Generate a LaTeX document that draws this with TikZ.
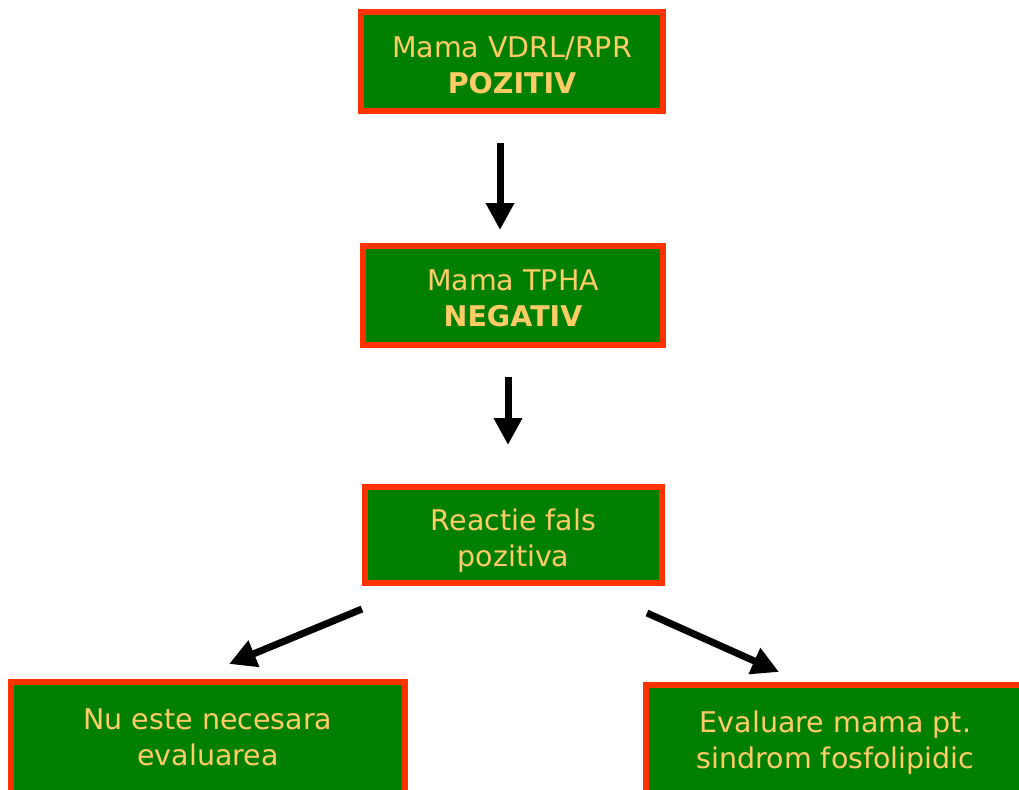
\documentclass[tikz,border=0pt]{standalone}
\usepackage{fontspec}
\setmainfont{DejaVu Sans}
\usetikzlibrary{arrows.meta}
\definecolor{boxred}{HTML}{FF3300}
\definecolor{boxgreen}{HTML}{007F00}
\definecolor{txtyellow}{HTML}{FFCC66}
\newcommand{\lowtext}[1]{\rule{0pt}{#1pt}}
\tikzset{
  box/.style={draw=boxred, fill=boxgreen, line width=6pt, text=txtyellow,
    align=center, inner sep=0pt, font=\fontsize{28.5}{36}\selectfont},
  arr/.style={line width=7pt, -{Triangle[length=27pt,width=27pt]}}
}
\begin{document}
\begin{tikzpicture}[x=1pt,y=-1pt]
\useasboundingbox (0,0) rectangle (1019,789);
\clip (0,0) rectangle (1019,789);
\fill[white] (0,0) rectangle (1019,789);
\node[box, minimum width=302pt, minimum height=99pt] (b1) at (512,61.5)
  {\lowtext{28}Mama VDRL/RPR\\\textbf{POZITIV}};
\node[box, minimum width=300pt, minimum height=99pt] (b2) at (513,295.5)
  {\lowtext{27}Mama TPHA\\\textbf{NEGATIV}};
\node[box, minimum width=297pt, minimum height=96pt] (b3) at (513.5,535)
  {\lowtext{32}Reactie fals\\pozitiva};
\node[box, minimum width=394pt, minimum height=111pt] (b4) at (208,737)
  {Nu este necesara\\evaluarea};
\node[box, minimum width=380pt, minimum height=111pt] (b5) at (835.5,740)
  {\lowtext{26}Evaluare mama pt.\\sindrom fosfolipidic};
\coordinate (a1s) at (500,143);
\coordinate (a1e) at (500,230);
\coordinate (a2s) at (508,377);
\coordinate (a2e) at (508,445);
\coordinate (a3s) at (362,609);
\coordinate (a3e) at (229,664);
\coordinate (a4s) at (647,613);
\coordinate (a4e) at (779,672);
\draw[arr] (a1s) -- (a1e);
\draw[arr] (a2s) -- (a2e);
\draw[arr] (a3s) -- (a3e);
\draw[arr] (a4s) -- (a4e);
\end{tikzpicture}
\end{document}
